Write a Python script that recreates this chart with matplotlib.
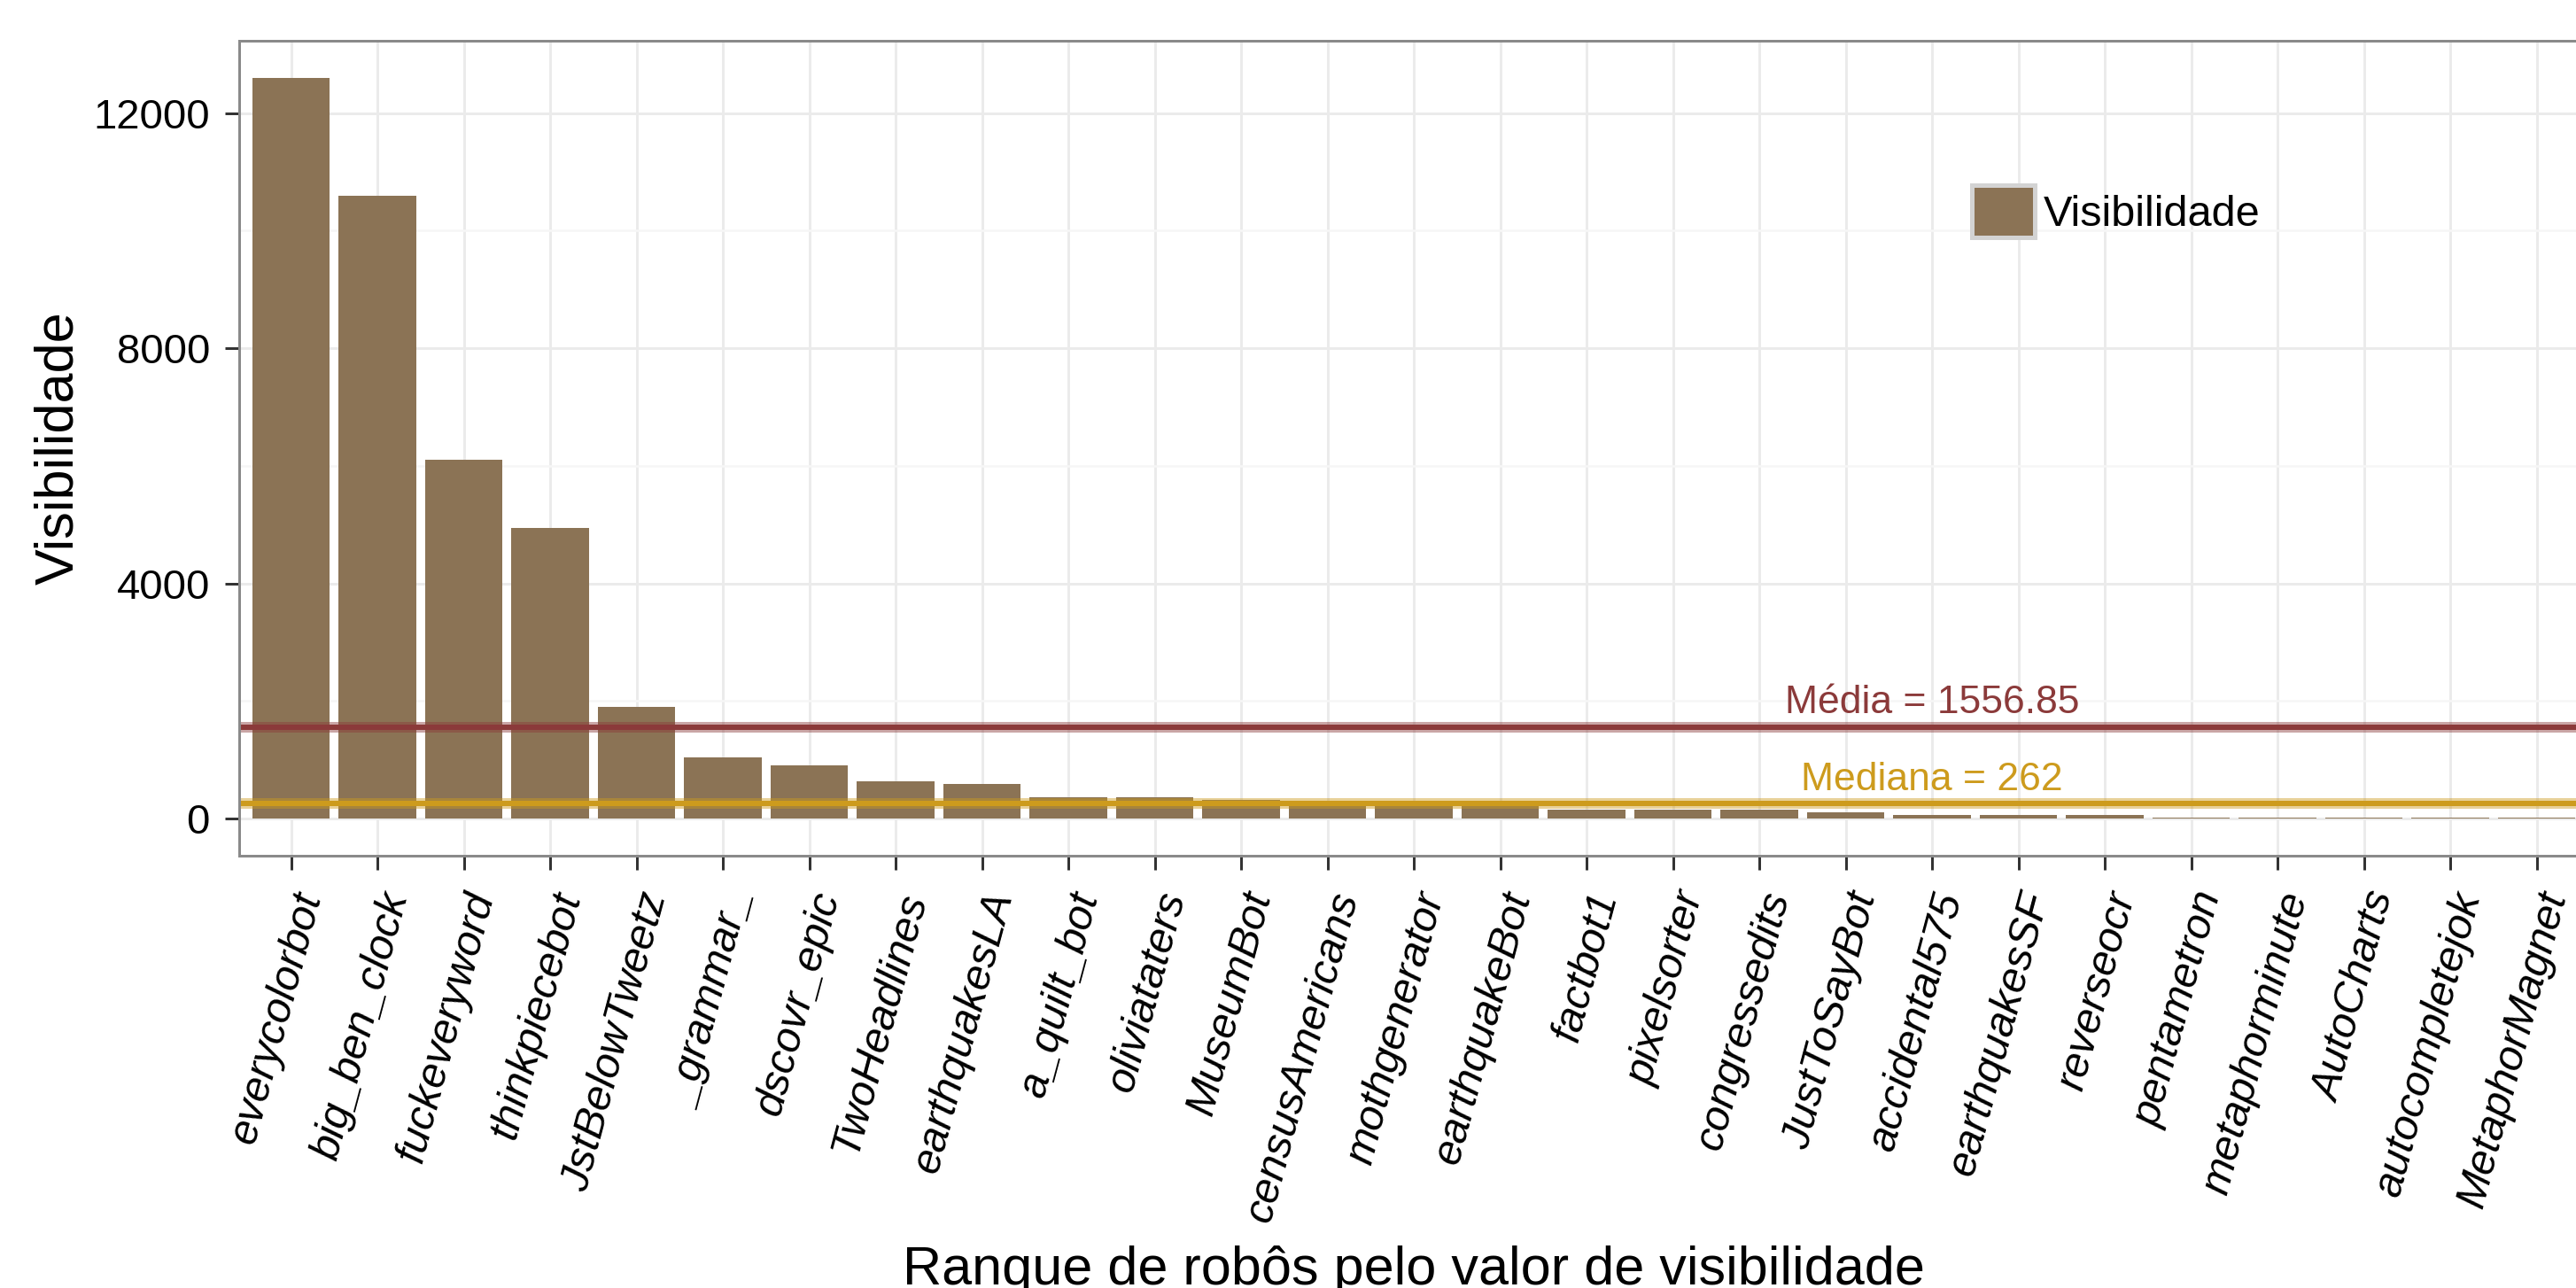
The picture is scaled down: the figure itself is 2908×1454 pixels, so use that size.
import matplotlib
matplotlib.use('Agg')
import matplotlib.pyplot as plt
from matplotlib.patches import Patch
from matplotlib.ticker import FixedLocator
import numpy as np

# ---------------- data ----------------
bots = ["everycolorbot", "big_ben_clock", "fuckeveryword", "thinkpiecebot",
        "JstBelowTweetz", "_grammar_", "dscovr_epic", "TwoHeadlines",
        "earthquakesLA", "a_quilt_bot", "oliviataters", "MuseumBot",
        "censusAmericans", "mothgenerator", "earthquakeBot", "factbot1",
        "pixelsorter", "congressedits", "JustToSayBot", "accidental575",
        "earthquakesSF", "reverseocr", "pentametron", "metaphorminute",
        "AutoCharts", "autocompletejok", "MetaphorMagnet"]
visibilidade = [12600, 10587, 6110, 4950, 1898, 1043, 905, 635, 594, 364,
                364, 317, 280, 262, 255, 148, 148, 148, 115, 62,
                62, 62, 25, 25, 25, 25, 25]
media = 1556.85
mediana = 262
media_label = "Média = 1556.85"
mediana_label = "Mediana = 262"
annot_bot = "accidental575"
yticks = [0, 4000, 8000, 12000]
yminor = [2000, 6000, 10000]
legend_label = "Visibilidade"
xlabel = "Ranque de robôs pelo valor de visibilidade"
ylabel = "Visibilidade"

# ---------------- style ----------------
plt.rcParams['font.family'] = ['Liberation Sans', 'DejaVu Sans']
W, H, DPI = 2908, 1454, 200
def px(v):
    return v * 72.0 / DPI

BAR = '#8B7355'
MEAN_C = '#8B3A3A'
MED_C = '#CD9B1D'

fig = plt.figure(figsize=(W / DPI, H / DPI), dpi=DPI)
left_px, right_px, top_px, bottom_px = 270, 2922, 46, 966
ax = fig.add_axes([left_px / W, 1 - bottom_px / H,
                   (right_px - left_px) / W, (bottom_px - top_px) / H])

x = np.arange(len(bots))
ax.bar(x, visibilidade, width=0.9, color=BAR, zorder=2, linewidth=0)
ymax = max(visibilidade)
ax.set_xlim(-0.6, len(bots) - 0.4)
ax.set_ylim(-0.05 * ymax, 1.05 * ymax)

# reference lines (halo + core)
for val, col in ((media, MEAN_C), (mediana, MED_C)):
    ax.axhline(val, color=col, lw=px(12), alpha=0.45, zorder=3)
    ax.axhline(val, color=col, lw=px(6), zorder=4)

xi = bots.index(annot_bot)
ax.text(xi, media + 235, media_label, ha='center', va='baseline',
        color=MEAN_C, fontsize=16, zorder=5)
ax.text(xi, mediana + 223, mediana_label, ha='center', va='baseline',
        color=MED_C, fontsize=16, zorder=5)

# ticks
ax.set_yticks(yticks)
ax.set_yticklabels([str(v) for v in yticks])
ax.yaxis.set_minor_locator(FixedLocator(yminor))
ax.set_xticks(x)
ax.set_xticklabels(bots, rotation=75, ha='right', va='top',
                   rotation_mode='anchor', fontstyle='italic', fontsize=17.5)
ax.tick_params(axis='both', which='major', length=px(16), width=px(3),
               color='#333333', labelcolor='black')
ax.tick_params(axis='y', which='major', labelsize=17, pad=px(17))
ax.tick_params(axis='x', which='major', pad=px(20))
ax.tick_params(axis='y', which='minor', length=0)

# grid
ax.set_axisbelow(True)
ax.grid(which='major', color='#EBEBEB', lw=px(3), zorder=0)
ax.grid(which='minor', axis='y', color='#F6F6F6', lw=px(2.5), zorder=0)

for s in ax.spines.values():
    s.set_color('#8A8A8A')
    s.set_linewidth(px(3))
    s.set_zorder(6)

# labels
ax.set_ylabel(ylabel, fontsize=22)
ax.yaxis.set_label_coords((95 - left_px) / (right_px - left_px), 0.5)
ax.set_xlabel(xlabel, fontsize=22, va='baseline')
ax.xaxis.set_label_coords(0.5, (4 - (H - bottom_px)) / (bottom_px - top_px))

# legend
handle = Patch(facecolor=BAR, edgecolor='#D3D3D3', linewidth=px(5),
               label=legend_label)
fs = 17.5
fs_px = fs * DPI / 72.0
fig.legend(handles=[handle], loc='center left',
           bbox_to_anchor=(2225.5 / W, 1 - 238.5 / H),
           frameon=False, fontsize=fs, handlelength=71 / fs_px,
           handleheight=71 / fs_px, handletextpad=10.5 / fs_px,
           borderpad=0, borderaxespad=0)

fig.savefig('out.png', dpi=DPI)
